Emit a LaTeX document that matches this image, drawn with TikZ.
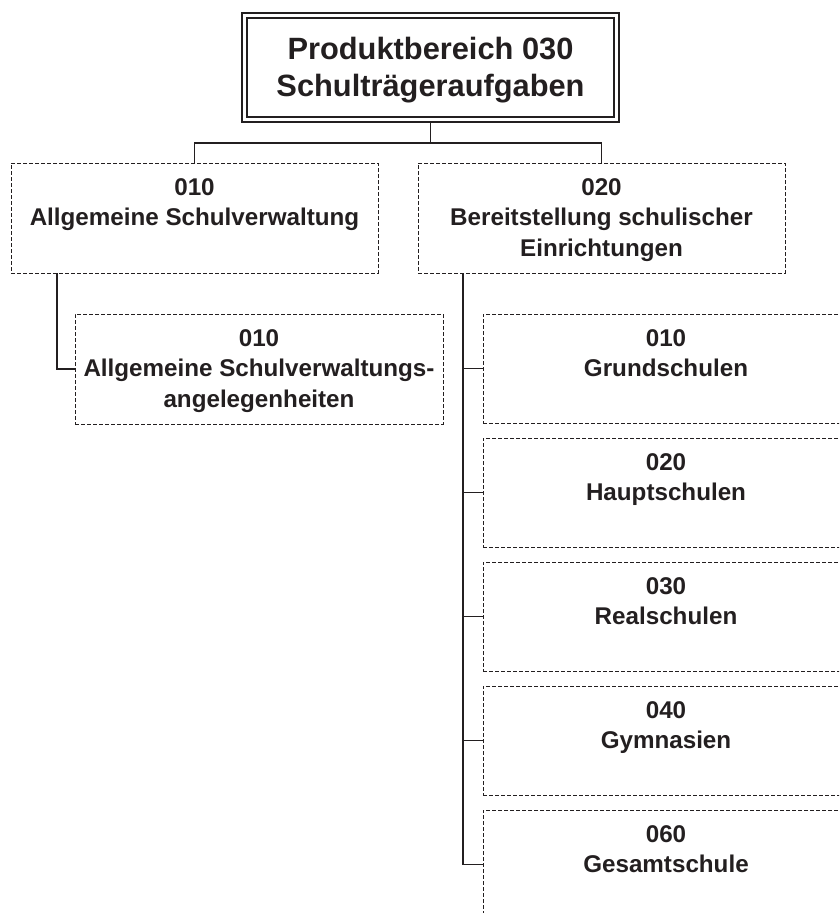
\documentclass[tikz,border=0pt]{standalone}
\usepackage{fontspec}
\setmainfont{Liberation Sans}
\definecolor{ink}{HTML}{231F20}
\begin{document}
\begin{tikzpicture}[x=1pt, y=-1pt, every node/.style={inner sep=0pt, outer sep=0pt, text=ink},
  headbox/.style={draw=ink, line width=2pt, double=white, double distance=3pt, outer sep=3.5pt, minimum width=372pt, minimum height=103.5pt},
  headtxt/.style={font=\fontsize{30.8}{37}\selectfont\bfseries, align=center, anchor=base},
  unit/.style={draw=ink, line width=1pt, dash pattern=on 4pt off 2pt, minimum width=367pt, minimum height=110pt},
  unittxt/.style={font=\fontsize{24.2}{30.5}\selectfont\bfseries, align=center, anchor=base},
  link/.style={draw=ink, line width=1.6pt}]
\useasboundingbox (0,0) rectangle (839,913);
\clip (0,0) rectangle (839,913);
% Produktbereich (base = last line)
\node[headbox] (head) at (430.5,67.25) {};
\node[headtxt] (head-t) at (430.5,96) {Produktbereich 030\\Schulträgeraufgaben};
% Produktgruppen
\node[unit] (adm) at (194.5,218) {};
\node[unittxt] (adm-t) at (194.5,225.5) {010\\Allgemeine Schulverwaltung};
\node[unit] (bereit) at (601.5,218) {};
\node[unittxt] (bereit-t) at (601.5,256) {020\\Bereitstellung schulischer\\Einrichtungen};
\draw[link] (head.south) -- ++(0,20.5) -| (adm.north);
\draw[link] (head.south) -- ++(0,20.5) -| (bereit.north);
% Produkte unter 010
\node[unit, minimum width=368pt] (admang) at (259,369) {};
\node[unittxt] (admang-t) at (259,407) {010\\Allgemeine Schulverwaltungs-\\angelegenheiten};
\coordinate (l1) at (57,273);
\draw[link] (l1) |- (admang.west);
% Produkte unter 020
\coordinate (r1) at (463,273);
\foreach \n/\code/\name [count=\i from 0] in {gs/010/Grundschulen, hs/020/Hauptschulen, rs/030/Realschulen, gy/040/Gymnasien, ge/060/Gesamtschule}{
  \node[unit, minimum width=366pt, minimum height=109pt] (\n) at (666,368.5+124*\i) {};
  \node[unittxt] (\n-t) at (666,376.5+124*\i) {\code\\\name};
  \draw[link] (r1) |- (\n.west);
}
\end{tikzpicture}
\end{document}
